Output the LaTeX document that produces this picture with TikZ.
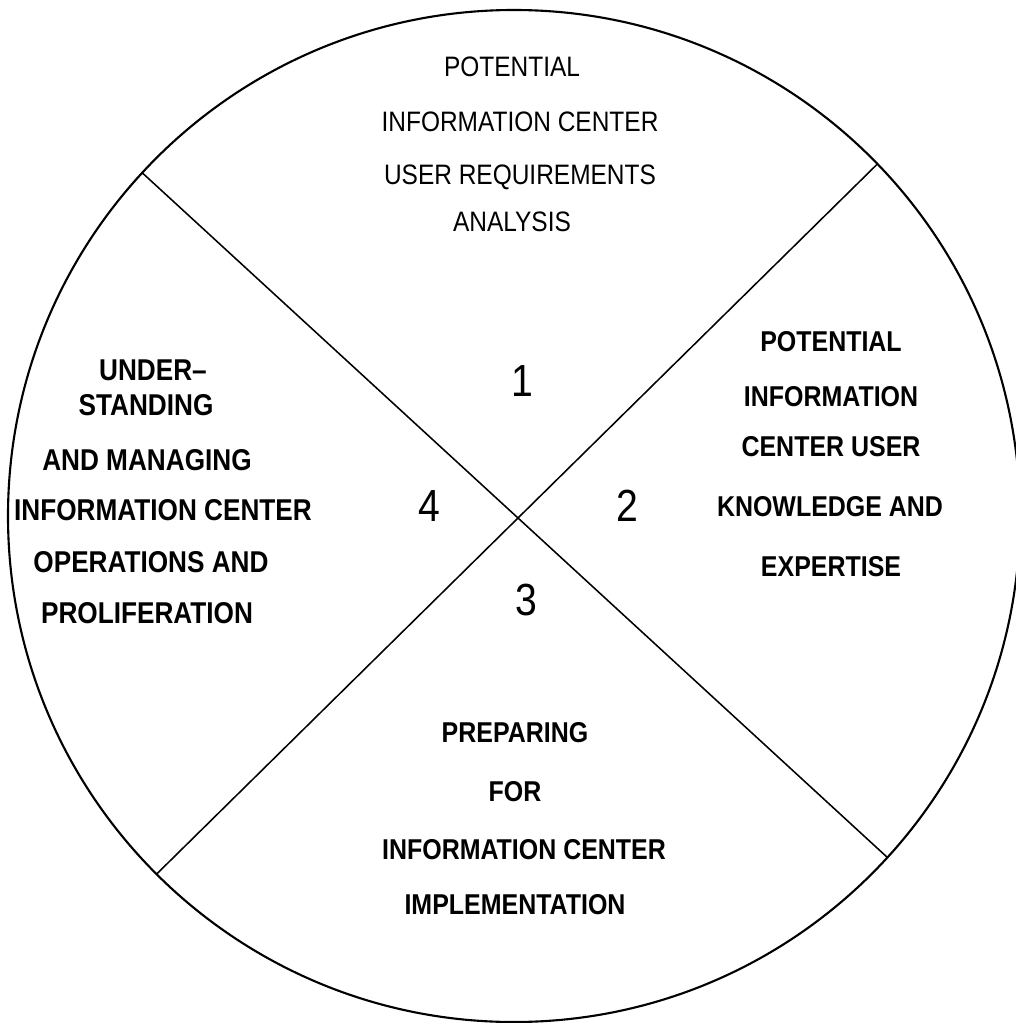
\documentclass[tikz,border=0pt]{standalone}
\usepackage{fontspec}
\setmainfont[FakeStretch=0.87]{Liberation Sans}
\begin{document}
\begin{tikzpicture}[
    x=0.025cm, y=-0.025cm,
    every node/.style={inner sep=0pt, text height=14pt, text depth=0pt},
    duenn/.style={font=\fontsize{20}{24}\selectfont},
    fett/.style={font=\fontsize{20.4}{24}\selectfont\bfseries},
    fettgross/.style={font=\fontsize{21.4}{24}\selectfont\bfseries, text height=15pt},
    nummer/.style={font=\fontsize{32}{36}\selectfont, text height=22.8pt},
    rand/.style={line width=1.5pt},
    teiler/.style={line width=1.1pt}
]
\useasboundingbox (0,0) rectangle (1016,1023);
% Kreis und Teiler
\coordinate (mitte) at (518,518);
\coordinate (nw) at (100,134);
\coordinate (se) at (950,915);
\coordinate (ne) at (918,124);
\coordinate (sw) at (110,920);
\begin{scope}
  \clip (514,516) circle[radius=506];
  \draw[teiler] (nw) -- (mitte) -- (se);
  \draw[teiler] (ne) -- (mitte) -- (sw);
\end{scope}
\draw[rand] (514,516) circle[radius=506];
% Feld 1
\node[duenn] (f1a) at (512,67) {POTENTIAL};
\node[duenn] (f1b) at (520,122) {INFORMATION CENTER};
\node[duenn] (f1c) at (520,175) {USER REQUIREMENTS};
\node[duenn] (f1d) at (512,222) {ANALYSIS};
% Feld 2
\node[fett] (f2a) at (831,342) {POTENTIAL};
\node[fett] (f2b) at (831,397) {INFORMATION};
\node[fett] (f2c) at (831,447) {CENTER USER};
\node[fett] (f2d) at (830,507) {KNOWLEDGE AND};
\node[fett] (f2e) at (831,567) {EXPERTISE};
% Feld 3
\node[fett] (f3a) at (515,733) {PREPARING};
\node[fett] (f3b) at (515,792) {FOR};
\node[fett] (f3c) at (524,850) {INFORMATION CENTER};
\node[fett] (f3d) at (515,905) {IMPLEMENTATION};
% Feld 4
\node[fettgross] (f4a) at (153,370) {UNDER--};
\node[fettgross] (f4b) at (146,405) {STANDING};
\node[fettgross] (f4c) at (147,460) {AND MANAGING};
\node[fettgross] (f4d) at (163,510) {INFORMATION CENTER};
\node[fettgross] (f4e) at (151,562) {OPERATIONS AND};
\node[fettgross] (f4f) at (147,613) {PROLIFERATION};
% Nummern
\node[nummer] (n1) at (522,380) {1};
\node[nummer] (n2) at (627,505) {2};
\node[nummer] (n3) at (526,599) {3};
\node[nummer] (n4) at (429,505) {4};
\end{tikzpicture}
\end{document}
